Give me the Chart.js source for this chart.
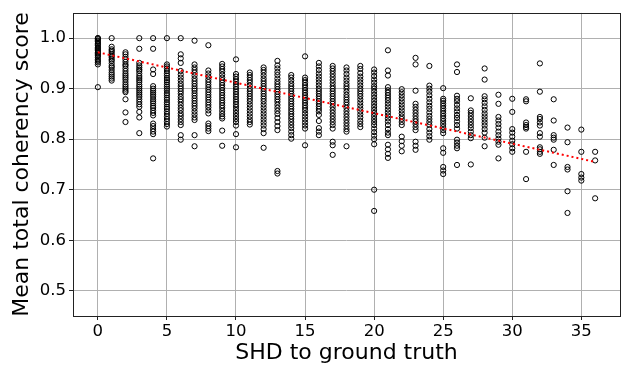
<html>
<head>
  <title>Mean total coherency score vs SHD</title>
  <script src="https://cdn.jsdelivr.net/npm/chart.js"></script>
  <style>
    body { margin: 0; background: #fff; }
  </style>
</head>
<body>
  <canvas id="myChart" width="635" height="367"></canvas>

  <script>
    // SHD values on the x axis (one column of points per value)
    var shdValues = [0, 1, 2, 3, 4, 5, 6, 7, 8, 9, 10, 11, 12, 13, 14, 15, 16, 17, 18,
                     19, 20, 21, 22, 23, 24, 25, 26, 27, 28, 29, 30, 31, 32, 33, 34, 35, 36];

    // Mean total coherency scores, one list per SHD value
    var scoresBySHD = [
      [1.0, 1.0, 0.998, 0.995, 0.993, 0.99, 0.988, 0.985, 0.982, 0.98, 0.977, 0.975, 0.972, 0.97, 0.967, 0.965, 0.962, 0.958, 0.955, 0.952, 0.948, 0.903],
      [1.0, 0.983, 0.978, 0.975, 0.972, 0.968, 0.965, 0.962, 0.958, 0.955, 0.95, 0.945, 0.942, 0.937, 0.932, 0.928, 0.924, 0.92, 0.916],
      [0.972, 0.968, 0.963, 0.958, 0.953, 0.948, 0.945, 0.94, 0.935, 0.93, 0.926, 0.922, 0.918, 0.913, 0.908, 0.904, 0.9, 0.896, 0.893, 0.879, 0.853, 0.834],
      [1.0, 0.979, 0.951, 0.946, 0.942, 0.938, 0.935, 0.93, 0.925, 0.921, 0.917, 0.913, 0.908, 0.904, 0.9, 0.896, 0.892, 0.888, 0.884, 0.879, 0.874, 0.869, 0.864, 0.854, 0.843, 0.812],
      [1.0, 0.979, 0.938, 0.929, 0.905, 0.9, 0.896, 0.892, 0.888, 0.884, 0.879, 0.875, 0.871, 0.866, 0.862, 0.857, 0.852, 0.847, 0.831, 0.826, 0.82, 0.815, 0.81, 0.762],
      [1.0, 0.948, 0.944, 0.94, 0.935, 0.93, 0.926, 0.921, 0.917, 0.913, 0.908, 0.904, 0.9, 0.896, 0.891, 0.887, 0.882, 0.878, 0.873, 0.869, 0.864, 0.86, 0.855, 0.85, 0.845, 0.84, 0.835, 0.83, 0.825],
      [1.0, 0.968, 0.96, 0.951, 0.935, 0.928, 0.922, 0.916, 0.91, 0.905, 0.9, 0.895, 0.89, 0.884, 0.879, 0.874, 0.868, 0.862, 0.857, 0.851, 0.846, 0.84, 0.834, 0.828, 0.808, 0.799],
      [0.995, 0.948, 0.942, 0.937, 0.932, 0.926, 0.92, 0.915, 0.91, 0.905, 0.9, 0.896, 0.891, 0.886, 0.881, 0.876, 0.871, 0.866, 0.861, 0.855, 0.849, 0.843, 0.838, 0.808, 0.786],
      [0.986, 0.936, 0.93, 0.924, 0.918, 0.913, 0.908, 0.903, 0.898, 0.893, 0.888, 0.883, 0.878, 0.873, 0.868, 0.863, 0.857, 0.851, 0.831, 0.826, 0.821, 0.816],
      [0.949, 0.944, 0.939, 0.934, 0.928, 0.922, 0.917, 0.912, 0.907, 0.902, 0.897, 0.892, 0.887, 0.882, 0.877, 0.872, 0.867, 0.862, 0.856, 0.85, 0.845, 0.841, 0.817, 0.787],
      [0.958, 0.929, 0.924, 0.919, 0.914, 0.909, 0.904, 0.899, 0.894, 0.889, 0.884, 0.879, 0.874, 0.869, 0.864, 0.858, 0.852, 0.846, 0.84, 0.834, 0.827, 0.81, 0.784],
      [0.932, 0.927, 0.922, 0.917, 0.912, 0.906, 0.9, 0.895, 0.89, 0.885, 0.88, 0.875, 0.869, 0.863, 0.857, 0.851, 0.845, 0.839, 0.834, 0.829],
      [0.942, 0.937, 0.932, 0.926, 0.92, 0.915, 0.91, 0.905, 0.9, 0.895, 0.89, 0.885, 0.88, 0.875, 0.869, 0.863, 0.857, 0.851, 0.845, 0.839, 0.833, 0.827, 0.82, 0.812, 0.783],
      [0.955, 0.946, 0.94, 0.933, 0.927, 0.92, 0.914, 0.909, 0.904, 0.899, 0.894, 0.889, 0.884, 0.879, 0.874, 0.868, 0.862, 0.856, 0.85, 0.842, 0.834, 0.826, 0.818, 0.737, 0.732],
      [0.927, 0.922, 0.916, 0.91, 0.905, 0.9, 0.895, 0.89, 0.885, 0.88, 0.875, 0.87, 0.865, 0.86, 0.855, 0.85, 0.845, 0.84, 0.834, 0.828, 0.822, 0.815, 0.808, 0.801],
      [0.964, 0.922, 0.917, 0.912, 0.907, 0.902, 0.897, 0.892, 0.887, 0.882, 0.877, 0.872, 0.867, 0.862, 0.857, 0.851, 0.845, 0.839, 0.833, 0.827, 0.821, 0.788],
      [0.951, 0.944, 0.937, 0.93, 0.924, 0.918, 0.912, 0.906, 0.9, 0.895, 0.89, 0.885, 0.88, 0.875, 0.87, 0.865, 0.86, 0.855, 0.848, 0.836, 0.822, 0.815, 0.808],
      [0.945, 0.94, 0.935, 0.929, 0.923, 0.917, 0.911, 0.905, 0.9, 0.895, 0.89, 0.885, 0.88, 0.875, 0.87, 0.864, 0.858, 0.852, 0.846, 0.84, 0.834, 0.828, 0.821, 0.795, 0.788, 0.769],
      [0.942, 0.936, 0.929, 0.922, 0.916, 0.91, 0.905, 0.9, 0.894, 0.888, 0.883, 0.878, 0.873, 0.868, 0.862, 0.856, 0.85, 0.844, 0.838, 0.832, 0.826, 0.82, 0.815, 0.786],
      [0.945, 0.939, 0.931, 0.924, 0.918, 0.912, 0.906, 0.9, 0.895, 0.89, 0.885, 0.879, 0.873, 0.867, 0.861, 0.855, 0.849, 0.843, 0.836, 0.83, 0.824],
      [0.938, 0.932, 0.925, 0.918, 0.912, 0.905, 0.9, 0.894, 0.888, 0.882, 0.876, 0.87, 0.864, 0.858, 0.852, 0.846, 0.84, 0.834, 0.828, 0.821, 0.814, 0.807, 0.8, 0.79, 0.7, 0.658],
      [0.976, 0.936, 0.926, 0.903, 0.897, 0.892, 0.887, 0.882, 0.877, 0.871, 0.865, 0.859, 0.853, 0.847, 0.841, 0.835, 0.828, 0.82, 0.813, 0.808, 0.789, 0.78, 0.771, 0.763],
      [0.899, 0.893, 0.887, 0.881, 0.875, 0.869, 0.863, 0.857, 0.851, 0.845, 0.84, 0.834, 0.828, 0.805, 0.796, 0.787, 0.776],
      [0.961, 0.948, 0.896, 0.87, 0.864, 0.858, 0.852, 0.846, 0.84, 0.835, 0.83, 0.824, 0.818, 0.795, 0.787, 0.779],
      [0.945, 0.906, 0.9, 0.894, 0.887, 0.88, 0.873, 0.866, 0.86, 0.853, 0.846, 0.84, 0.834, 0.828, 0.82, 0.813, 0.806, 0.799],
      [0.901, 0.88, 0.876, 0.871, 0.866, 0.861, 0.856, 0.851, 0.846, 0.841, 0.836, 0.83, 0.824, 0.818, 0.812, 0.782, 0.773, 0.745, 0.738, 0.731],
      [0.948, 0.933, 0.886, 0.88, 0.875, 0.868, 0.861, 0.855, 0.848, 0.842, 0.835, 0.828, 0.821, 0.799, 0.793, 0.787, 0.782, 0.749],
      [0.881, 0.857, 0.852, 0.846, 0.84, 0.834, 0.828, 0.822, 0.815, 0.808, 0.802, 0.75],
      [0.94, 0.918, 0.885, 0.879, 0.872, 0.865, 0.858, 0.851, 0.845, 0.839, 0.833, 0.827, 0.82, 0.813, 0.803, 0.786],
      [0.888, 0.87, 0.844, 0.837, 0.83, 0.823, 0.815, 0.808, 0.801, 0.795, 0.789, 0.762],
      [0.88, 0.854, 0.82, 0.813, 0.805, 0.797, 0.79, 0.782, 0.775],
      [0.879, 0.875, 0.833, 0.828, 0.824, 0.821, 0.775, 0.721],
      [0.95, 0.894, 0.844, 0.84, 0.833, 0.827, 0.812, 0.805, 0.784, 0.78, 0.775, 0.771],
      [0.879, 0.837, 0.808, 0.803, 0.799, 0.779, 0.749],
      [0.823, 0.794, 0.745, 0.74, 0.697, 0.654],
      [0.819, 0.775, 0.731, 0.724, 0.718],
      [0.775, 0.758, 0.683]
    ];

    // Fitted trend line end points
    var trendX = [0, 36];
    var trendY = [0.972, 0.755];

    // Tick labels
    var xTicks = [0, 5, 10, 15, 20, 25, 30, 35];
    var yTicks = [0.5, 0.6, 0.7, 0.8, 0.9, 1.0];

    // Build scatter points from the columns
    var points = [];
    for (var i = 0; i < shdValues.length; i++) {
      for (var j = 0; j < scoresBySHD[i].length; j++) {
        points.push({ x: shdValues[i], y: scoresBySHD[i][j] });
      }
    }
    var trendPoints = trendX.map(function (x, i) { return { x: x, y: trendY[i] }; });

    // Box around the plot area, like matplotlib spines
    var frame = {
      id: "frame",
      afterDraw: function (chart) {
        var a = chart.chartArea, c = chart.ctx;
        c.save();
        c.strokeStyle = "#222";
        c.lineWidth = 1;
        c.strokeRect(Math.round(a.left) + 0.5, Math.round(a.top) + 0.5,
                     Math.round(a.right - a.left), Math.round(a.bottom - a.top));
        c.restore();
      }
    };

    var font = "'DejaVu Sans', sans-serif";
    var gridStyle = { color: "#b0b0b0", lineWidth: 1, tickLength: 4, tickColor: "#222" };

    new Chart(document.getElementById("myChart").getContext("2d"), {
      type: "scatter",
      data: {
        datasets: [
          {
            type: "line",
            data: trendPoints,
            borderColor: "red",
            borderWidth: 2,
            borderDash: [2, 3],
            pointRadius: 0,
            fill: false,
            order: 0
          },
          {
            data: points,
            backgroundColor: "rgba(0,0,0,0)",
            borderColor: "#000",
            borderWidth: 1,
            pointRadius: 2.6,
            order: 1
          }
        ]
      },
      options: {
        responsive: false,
        animation: false,
        layout: { padding: { top: 8, right: 15, left: 0, bottom: 0 } },
        plugins: { legend: { display: false }, tooltip: { enabled: false } },
        scales: {
          x: {
            type: "linear",
            min: -1.8,
            max: 37.8,
            afterBuildTicks: function (s) { s.ticks = xTicks.map(function (v) { return { value: v }; }); },
            afterFit: function (s) { s.height = 51; },
            ticks: { color: "#000", font: { family: font, size: 16.5 }, padding: 2, maxRotation: 0 },
            grid: gridStyle,
            border: { display: false },
            title: { display: true, text: "SHD to ground truth", color: "#000", font: { family: font, size: 22, lineHeight: 1.2 }, padding: { top: 0, bottom: 1 } }
          },
          y: {
            min: 0.45,
            max: 1.05,
            afterBuildTicks: function (s) { s.ticks = yTicks.map(function (v) { return { value: v }; }); },
            afterFit: function (s) { s.width = 73; },
            ticks: {
              color: "#000", font: { family: font, size: 16.5 }, padding: 3,
              callback: function (v) { return v.toFixed(1); }
            },
            grid: gridStyle,
            border: { display: false },
            title: { display: true, text: "Mean total coherency score", color: "#000", font: { family: font, size: 22, lineHeight: 1.2 }, padding: { top: 9, bottom: 0 } }
          }
        }
      },
      plugins: [frame]
    });
  </script>
</body>
</html>
